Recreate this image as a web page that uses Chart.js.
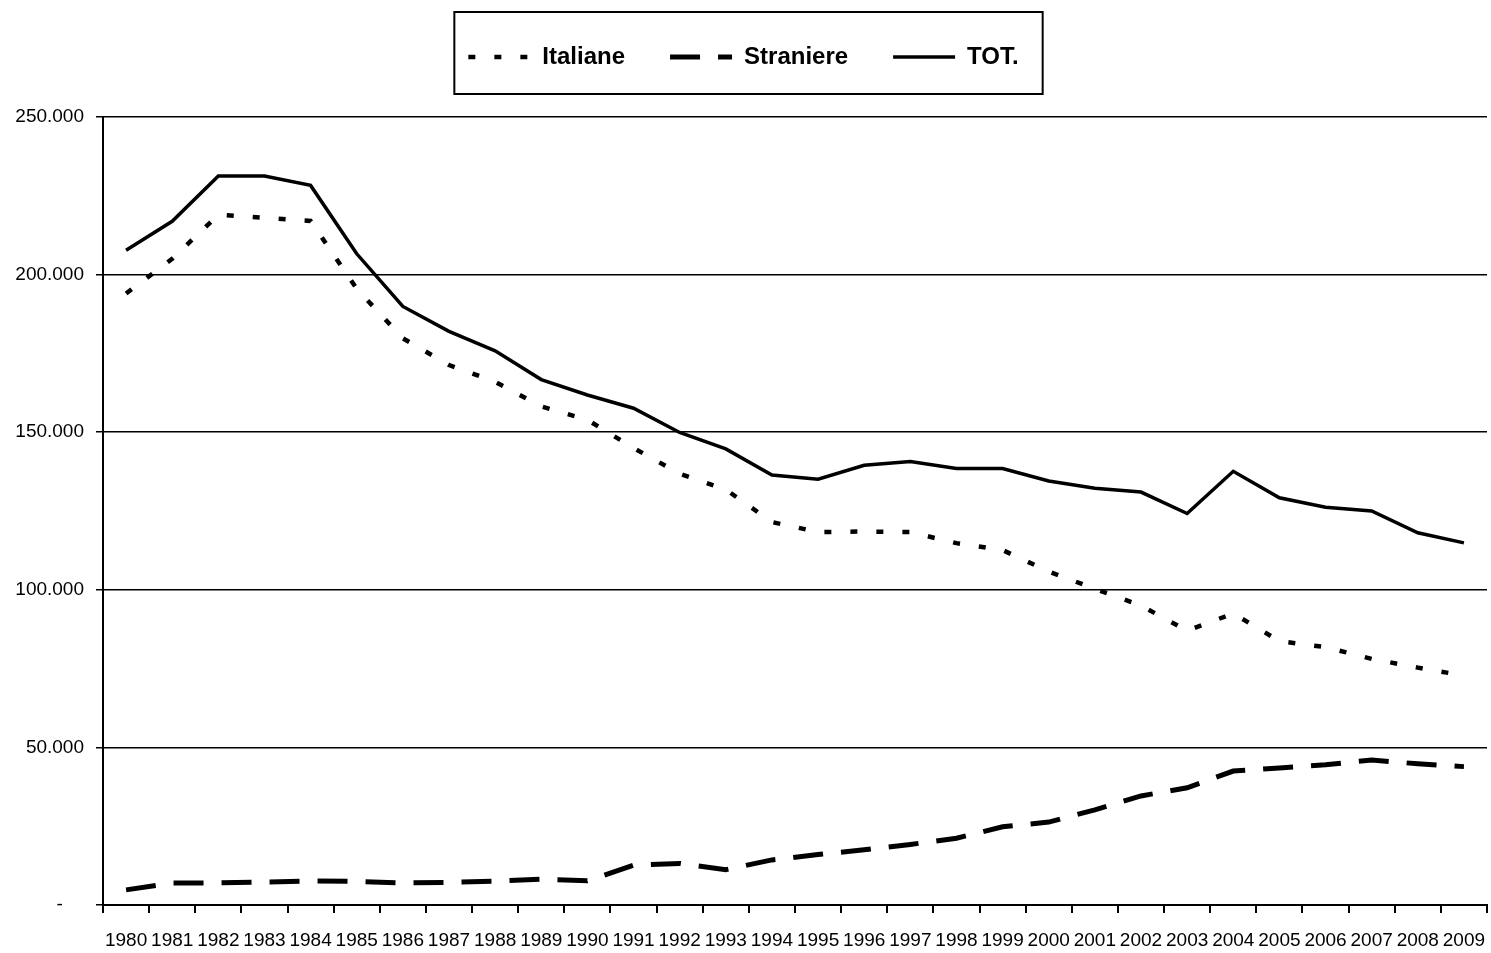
<!DOCTYPE html>
<html>
<head>
<meta charset="utf-8">
<script src="https://cdn.jsdelivr.net/npm/chart.js@4.4.1/dist/chart.umd.min.js"></script>
<style>
html,body{margin:0;padding:0;background:#fff;}
canvas{display:block;}
</style>
</head>
<body>
<canvas id="c" width="1491" height="953"></canvas>
<script>
const years = ['1980','1981','1982','1983','1984','1985','1986','1987','1988','1989','1990','1991','1992','1993','1994','1995','1996','1997','1998','1999','2000','2001','2002','2003','2004','2005','2006','2007','2008','2009'];
const italiane = [194000,205000,219000,218000,217000,195500,179800,171300,166000,158200,153900,145000,136800,131800,121500,118300,118500,118300,114800,112600,105800,100300,95000,87000,92500,83700,81800,78100,75300,72800];
const straniere = [4800,7000,7000,7300,7600,7500,7000,7200,7600,8200,7700,12600,13200,11200,14300,16000,17500,19200,21200,24800,26300,30200,34600,37200,42500,43500,44500,46000,44800,43900];
const tot = [207700,216900,231300,231300,228300,206600,189900,182000,175800,166700,161800,157600,149900,144700,136400,135100,139500,140700,138500,138500,134500,132200,131000,124200,137600,129200,126200,125000,118100,114900];
const seriesNames = ['Italiane','Straniere','TOT.'];
const yTicks = [0,50000,100000,150000,200000,250000];

const FONT = "'Liberation Sans', Arial, sans-serif";

function fmt(v){
  if (v === 0) return '-\u2007\u2007';
  return String(v).replace(/\B(?=(\d{3})+(?!\d))/g, '.');
}

const legendHeight = {
  id: 'legendHeight',
  afterInit(chart){
    const lg = chart.legend;
    if (!lg) return;
    const orig = lg.fit;
    lg.fit = function(){ orig.call(this); this.height = 117; };
  }
};

const legendBox = {
  id: 'legendBox',
  afterDraw(chart){
    const lg = chart.legend;
    if (!lg || !lg.legendHitBoxes || !lg.legendHitBoxes.length) return;
    const hb = lg.legendHitBoxes;
    const first = hb[0], last = hb[hb.length-1];
    const cy = first.top + first.height/2;
    const ctx = chart.ctx;
    ctx.save();
    ctx.strokeStyle = '#000';
    ctx.lineWidth = 2;
    ctx.setLineDash([]);
    const x0 = first.left - 14, x1 = last.left + last.width + 24;
    ctx.strokeRect(x0, cy - 45, x1 - x0, 82);
    ctx.restore();
  }
};

new Chart(document.getElementById('c'), {
  type: 'line',
  data: {
    labels: years,
    datasets: [
      { label: seriesNames[0], data: italiane, borderColor: '#000', backgroundColor: '#000', borderWidth: 4.5, borderDash: [7,19], borderCapStyle: 'butt', pointRadius: 0, tension: 0, fill: false },
      { label: seriesNames[1], data: straniere, borderColor: '#000', backgroundColor: '#000', borderWidth: 5, borderDash: [30,18], borderCapStyle: 'butt', pointRadius: 0, tension: 0, fill: false },
      { label: seriesNames[2], data: tot, borderColor: '#000', backgroundColor: '#000', borderWidth: 3.5, pointRadius: 0, tension: 0, fill: false }
    ]
  },
  options: {
    responsive: false,
    animation: false,
    layout: { padding: { left: 0, right: 4, top: 0, bottom: 0 } },
    plugins: {
      tooltip: { enabled: false },
      legend: {
        display: true,
        position: 'top',
        labels: {
          usePointStyle: true,
          pointStyle: 'line',
          pointStyleWidth: 62,
          boxHeight: 24,
          padding: 45,
          color: '#000',
          font: { family: FONT, size: 24, weight: 'bold' },
          generateLabels(chart){
            const items = Chart.defaults.plugins.legend.labels.generateLabels(chart);
            return items.map(it => {
              const ds = chart.data.datasets[it.datasetIndex];
              it.lineDash = ds.borderDash || [];
              it.lineWidth = ds.borderWidth;
              it.lineCap = 'butt';
              it.strokeStyle = ds.borderColor;
              it.pointStyle = 'line';
              return it;
            });
          }
        }
      }
    },
    scales: {
      x: {
        type: 'category',
        offset: true,
        grid: { offset: true, drawOnChartArea: false, drawTicks: true, tickLength: 8, color: '#000', lineWidth: 2 },
        border: { display: true, color: '#000', width: 2 },
        ticks: { autoSkip: false, maxRotation: 0, minRotation: 0, padding: 1, color: '#000', font: { family: FONT, size: 19, lineHeight: '54px' } },
        afterFit(scale){ scale.height = 48; }
      },
      y: {
        min: 0, max: 250000,
        afterBuildTicks(scale){ scale.ticks = yTicks.map(v => ({ value: v })); },
        grid: { color: '#000', lineWidth: 1.5, drawTicks: true, tickLength: 7 },
        border: { display: true, color: '#000', width: 2 },
        ticks: { padding: 12, color: '#000', font: { family: FONT, size: 19 }, callback: (v) => fmt(v) },
        afterFit(scale){ scale.width = 103; }
      }
    }
  },
  plugins: [legendHeight, legendBox]
});
</script>
</body>
</html>
